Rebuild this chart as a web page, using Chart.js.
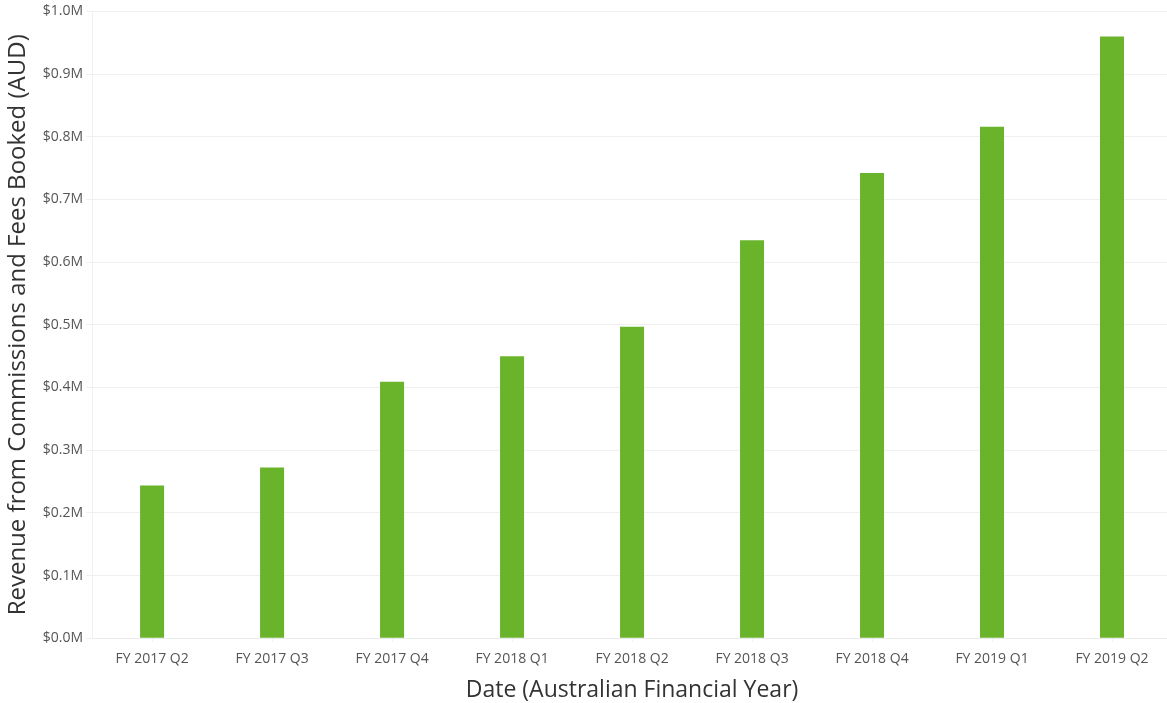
<!DOCTYPE html>
<html>
<head>
<meta charset="utf-8">
<script src="https://cdn.jsdelivr.net/npm/chart.js@4/dist/chart.umd.min.js"></script>
<style>
  html, body { margin: 0; padding: 0; background: #fff; overflow: hidden; }
  #wrap { width: 1172px; height: 703px; position: relative; }
</style>
</head>
<body>
<div id="wrap"><canvas id="c"></canvas></div>
<script>
const categories = ['FY 2017 Q2', 'FY 2017 Q3', 'FY 2017 Q4', 'FY 2018 Q1', 'FY 2018 Q2', 'FY 2018 Q3', 'FY 2018 Q4', 'FY 2019 Q1', 'FY 2019 Q2'];
const revenue = [243600, 272400, 409000, 450000, 497000, 635000, 742000, 816000, 960000];
const yTickValues = [0, 100000, 200000, 300000, 400000, 500000, 600000, 700000, 800000, 900000, 1000000];
const yTitle = 'Revenue from Commissions and Fees Booked (AUD)';
const xTitle = 'Date (Australian Financial Year)';

const ff = "'Open Sans', 'Noto Sans', sans-serif";
new Chart(document.getElementById('c'), {
  type: 'bar',
  data: {
    labels: categories,
    datasets: [{
      data: revenue,
      backgroundColor: '#69b42b',
      borderWidth: 0,
      barPercentage: 0.2,
      categoryPercentage: 1.0
    }]
  },
  options: {
    responsive: true,
    maintainAspectRatio: false,
    animation: false,
    layout: { padding: { top: 6, right: 0, left: 4, bottom: 1 } },
    plugins: { legend: { display: false }, tooltip: { enabled: false } },
    scales: {
      x: {
        grid: { display: true, offset: false, drawOnChartArea: false, color: '#f0f0f0', tickLength: 4 },
        border: { color: '#ebebeb' },
        ticks: { color: '#555', font: { family: ff, size: 14 }, padding: 8, maxRotation: 0 },
        title: { display: true, text: xTitle, color: '#333', font: { family: ff, size: 23, lineHeight: 1.0 }, padding: { top: 4, bottom: 0 } }
      },
      y: {
        min: 0, max: 1000000,
        afterBuildTicks: (axis) => { axis.ticks = yTickValues.map(v => ({ value: v })); },
        grid: { color: '#f0f0f0', tickLength: 6 },
        border: { color: '#f0f0f0' },
        ticks: {
          color: '#555', font: { family: ff, size: 14 }, padding: 3,
          callback: (v) => '$' + (v / 1000000).toFixed(1) + 'M'
        },
        title: { display: true, text: yTitle, color: '#333', font: { family: ff, size: 24 }, padding: { top: 0, bottom: 7 } }
      }
    }
  }
});
</script>
</body>
</html>
